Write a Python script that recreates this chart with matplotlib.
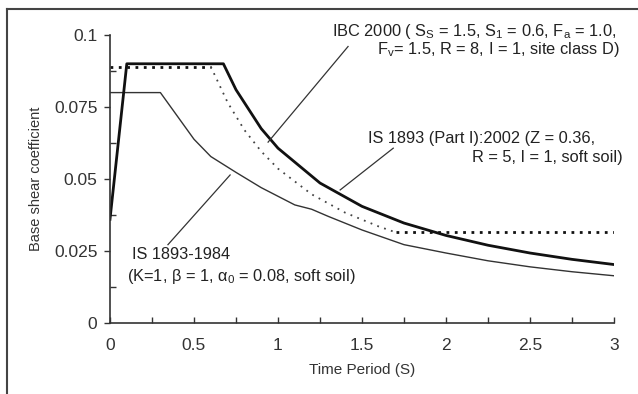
import numpy as np
import matplotlib
matplotlib.use('Agg')
import matplotlib.pyplot as plt
from matplotlib.lines import Line2D

plt.rcParams['font.family'] = ['Liberation Sans', 'DejaVu Sans']
plt.rcParams['mathtext.default'] = 'regular'

# IS 1893 (Part I):2002 - thick solid
is02_t = [0, 0.1, 0.675, 0.75, 0.9, 1.0, 1.25, 1.5, 1.75, 2.0, 2.25, 2.5, 2.75, 3.0]
is02_c = [0.036, 0.09, 0.09, 0.081, 0.0675, 0.0607, 0.0486, 0.0405, 0.0347,
          0.0304, 0.0270, 0.0243, 0.0221, 0.0203]

# IBC 2000 - dotted
ibc_t = [0, 0.6, 0.7, 0.8, 0.9, 1.0, 1.2, 1.4, 1.6, 1.7, 3.0]
ibc_c = [0.089, 0.089, 0.0766, 0.067, 0.0596, 0.0536, 0.0447, 0.0383, 0.0335,
         0.0315, 0.0315]

# IS 1893-1984 - thin solid
is84_t = [0, 0.3, 0.5, 0.6, 0.75, 0.9, 1.0, 1.1, 1.2, 1.3, 1.5, 1.75, 2.0,
          2.25, 2.5, 2.75, 3.0]
is84_c = [0.08, 0.08, 0.0638, 0.0578, 0.0523, 0.047, 0.044, 0.041, 0.0395,
          0.037, 0.0323, 0.0272, 0.0243, 0.0216, 0.0195, 0.0178, 0.0164]

xticks = [0, 0.5, 1, 1.5, 2, 2.5, 3]
xlabels = ['0', '0.5', '1', '1.5', '2', '2.5', '3']
yticks = [0, 0.025, 0.05, 0.075, 0.1]
ylabels = ['0', '0.025', '0.05', '0.075', '0.1']

fig = plt.figure(figsize=(6.38, 3.94), dpi=100)
ax = fig.add_axes([0.1724, 0.1802, 0.79, 0.731])

ax.plot(is84_t, is84_c, color='#333333', lw=1.0)
ax.plot(ibc_t[:2], ibc_c[:2], color='#111111', lw=2.0, ls=(0, (1, 2)))
ax.plot(ibc_t[1:-1], ibc_c[1:-1], color='#444444', lw=1.3, ls=(0, (1, 3)))
ax.plot(ibc_t[-2:], ibc_c[-2:], color='#111111', lw=2.0, ls=(0, (1, 2)))
ax.plot(is02_t, is02_c, color='#111111', lw=2.0)

ax.set_xlim(0, 3)
ax.set_ylim(0, 0.1)
ax.set_xticks(xticks)
ax.set_xticklabels(xlabels)
ax.set_yticks(yticks)
ax.set_yticklabels(ylabels)
ax.set_xticks([0.25, 0.75, 1.25, 1.75, 2.25, 2.75], minor=True)
ax.set_yticks([0.0125, 0.0375, 0.0625, 0.0875], minor=True)
ax.tick_params(axis='x', which='both', direction='in', length=4, width=1,
               labelsize=12.5, pad=11, colors='#333333')
ax.tick_params(axis='y', which='major', direction='out', length=4, width=1,
               labelsize=12.5, pad=5, colors='#333333')
ax.tick_params(axis='y', which='minor', direction='in', length=4, width=1,
               colors='#333333')
for s in ['top', 'right']:
    ax.spines[s].set_visible(False)
for s in ['left', 'bottom']:
    ax.spines[s].set_color('#333333')
    ax.spines[s].set_linewidth(1.2)

ax.set_xlabel('Time Period (S)', fontsize=11, color='#333333', labelpad=7)
ax.set_ylabel('Base shear coefficient', fontsize=10.5, color='#333333', labelpad=8)

tkw = dict(fontsize=11.8, color='#222222', va='center', ha='left')
ax.text(1.322, 0.1012, 'IBC 2000 ( S$_S$ = 1.5, S$_1$ = 0.6, F$_a$ = 1.0,', **tkw)
ax.text(1.59, 0.0950, 'F$_v$= 1.5, R = 8, I = 1, site class D)', **tkw)
ax.text(1.537, 0.0642, 'IS 1893 (Part I):2002 (Z = 0.36,', **tkw)
ax.text(2.156, 0.0576, 'R = 5, I = 1, soft soil)', **tkw)
ax.text(0.131, 0.0237, 'IS 1893-1984', **tkw)
ax.text(0.101, 0.0161, '(K=1, β = 1, α$_0$ = 0.08, soft soil)', **tkw)

# leader lines
ax.plot([1.417, 0.941], [0.096, 0.0628], color='#333333', lw=0.9)
ax.plot([1.686, 1.37], [0.0607, 0.0462], color='#333333', lw=0.9)
ax.plot([0.345, 0.715], [0.0272, 0.0514], color='#333333', lw=0.9)

# outer frame (left and top edges visible)
fig.add_artist(Line2D([7 / 638, 7 / 638], [0, 1 - 9 / 394], color='#444444', lw=1.5))
fig.add_artist(Line2D([7 / 638, 1], [1 - 9 / 394, 1 - 9 / 394], color='#444444', lw=1.5))

fig.savefig('out.png', dpi=100)
